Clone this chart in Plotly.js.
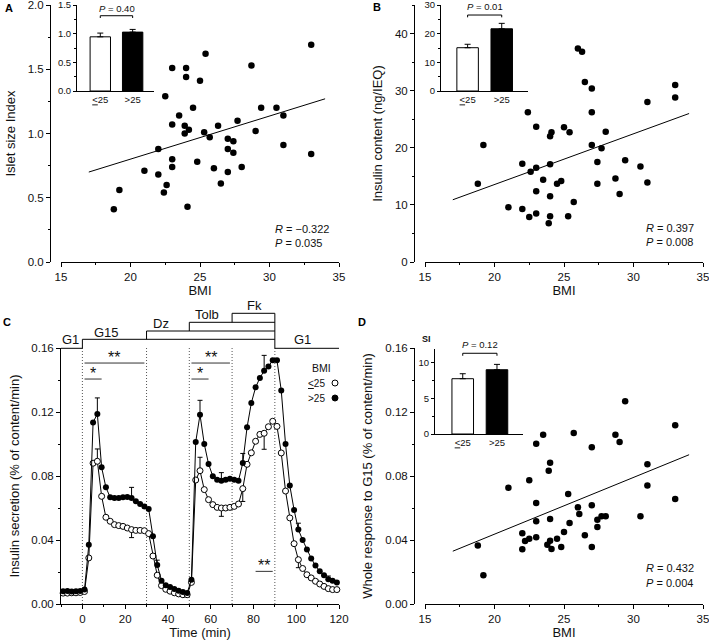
<!DOCTYPE html>
<html><head><meta charset="utf-8">
<script src="https://cdn.plot.ly/plotly-3.0.1.min.js"></script>
<style>html,body{margin:0;padding:0;background:#fff}#chart{width:709px;height:643px}</style>
</head><body><div id="chart"></div>
<script>
// ---------- Panel A: islet size index vs BMI ----------
const bmiA = [33.0, 25.4, 23.0, 24.0, 24.0, 25.0, 28.7, 22.5, 24.5, 23.5, 23.0, 23.9, 24.2, 23.9, 25.3, 25.7, 26.3, 27.0, 27.4, 27.7, 29.0, 29.4, 30.5, 31.0, 31.0, 33.0, 22.0, 23.0, 23.0, 24.8, 26.0, 27.0, 27.4, 27.0, 28.0, 21.0, 22.0, 22.6, 22.4, 26.5, 19.2, 18.8, 24.1];
const sizeA = [1.69, 1.62, 1.51, 1.51, 1.44, 1.41, 1.53, 1.29, 1.20, 1.14, 1.07, 1.06, 1.03, 1.00, 1.01, 0.97, 1.06, 0.96, 0.94, 1.10, 1.02, 1.20, 1.20, 1.14, 0.91, 0.84, 0.88, 0.80, 0.74, 0.78, 0.73, 0.88, 0.85, 0.70, 0.74, 0.71, 0.68, 0.60, 0.54, 0.61, 0.56, 0.41, 0.43];
const fitX = [17, 34];
const fitA = [0.70, 1.27];

// ---------- Panel B: insulin content vs BMI ----------
const bmiB = [26.0, 26.3, 26.5, 27.0, 33.0, 33.0, 31.0, 22.4, 27.0, 23.0, 24.1, 24.0, 25.0, 25.4, 28.0, 27.0, 27.7, 19.2, 22.0, 22.6, 23.0, 24.0, 23.5, 24.5, 24.8, 27.4, 29.4, 30.5, 28.7, 27.4, 31.0, 29.0, 18.8, 23.0, 24.0, 25.7, 21.0, 22.0, 22.5, 23.0, 24.0, 23.9, 25.3];
const insB = [37.4, 36.8, 31.5, 30.4, 31.0, 28.8, 28.0, 26.2, 26.2, 23.7, 22.7, 22.0, 23.6, 22.7, 22.8, 20.5, 19.9, 20.5, 17.2, 15.8, 16.5, 17.1, 14.4, 13.7, 14.2, 17.5, 17.8, 16.7, 14.6, 13.7, 13.9, 11.9, 13.7, 12.4, 11.5, 10.5, 9.6, 9.3, 7.9, 8.5, 8.0, 6.8, 8.0];
const fitB = [10.9, 26.0];

// ---------- Panel D: whole response to G15 vs BMI ----------
const bmiD = [29.4, 33.0, 23.5, 25.7, 23.0, 28.7, 29.0, 27.0, 24.0, 23.9, 31.0, 22.5, 21.0, 31.0, 25.3, 33.0, 23.0, 26.0, 27.0, 26.1, 24.0, 23.0, 25.4, 27.7, 28.0, 27.4, 30.5, 27.4, 25.0, 22.0, 26.5, 24.5, 22.5, 23.0, 22.2, 24.0, 23.8, 18.8, 22.0, 24.1, 24.8, 27.0, 19.2];
const respD = [0.1267, 0.1117, 0.1058, 0.1069, 0.1002, 0.1058, 0.1013, 0.0979, 0.0883, 0.0833, 0.0873, 0.0773, 0.0727, 0.0740, 0.0688, 0.0656, 0.0631, 0.0604, 0.0617, 0.0563, 0.0531, 0.0517, 0.0506, 0.0548, 0.0548, 0.0527, 0.0548, 0.0481, 0.0450, 0.0442, 0.0429, 0.0408, 0.0408, 0.0417, 0.0394, 0.0396, 0.0371, 0.0365, 0.0342, 0.0344, 0.0356, 0.0356, 0.0179];
const fitD = [0.0330, 0.0933];

// ---------- Insets (bar charts) ----------
const groupPos = [0, 1];
const groupLabels = ['<u>&lt;</u>25', '&gt;25'];
const insetA = [0.945, 1.027];
const insetAErr = [0.065, 0.047];
const insetB = [15.1, 21.7];
const insetBErr = [1.2, 1.9];
const insetD = [7.76, 9.02];
const insetDErr = [0.70, 0.75];

// ---------- Panel C: perifusion time course ----------
const timeC = [-9,-7,-5,-3,-1,1,3,5,7,9,11,13,15,17,19,21,23,25,27,29,31,33,35,37,39,41,43,45,47,49,51,53,55,57,59,61,63,65,67,69,71,73,75,77,79,81,83,85,87,89,91,93,95,97,99,101,103,105,107,109,111,113,115,117,119];
const lowBMI = [0.0068,0.0068,0.0070,0.0070,0.0072,0.0078,0.0288,0.0880,0.0892,0.0673,0.0542,0.0517,0.0496,0.0490,0.0485,0.0475,0.0465,0.0460,0.0460,0.0458,0.0440,0.0300,0.0180,0.0115,0.0092,0.0080,0.0070,0.0063,0.0058,0.0058,0.0135,0.0775,0.0833,0.0715,0.0652,0.0621,0.0604,0.0600,0.0600,0.0604,0.0610,0.0625,0.0721,0.0873,0.0945,0.1017,0.1060,0.1067,0.1108,0.1142,0.1110,0.0944,0.0706,0.0538,0.0377,0.0277,0.0222,0.0183,0.0163,0.0142,0.0125,0.0110,0.0096,0.0090,0.0090];
const highBMI = [0.0080,0.0082,0.0078,0.0080,0.0082,0.0090,0.0370,0.1135,0.1188,0.0854,0.0729,0.0667,0.0663,0.0663,0.0667,0.0669,0.0663,0.0642,0.0625,0.0610,0.0594,0.0423,0.0244,0.0146,0.0117,0.0106,0.0094,0.0083,0.0075,0.0069,0.0152,0.1013,0.1183,0.1000,0.0875,0.0798,0.0777,0.0771,0.0777,0.0783,0.0777,0.0771,0.0881,0.1104,0.1256,0.1354,0.1413,0.1458,0.1485,0.1523,0.1523,0.1335,0.1000,0.0740,0.0588,0.0465,0.0400,0.0340,0.0285,0.0240,0.0205,0.0180,0.0155,0.0145,0.0135];
const highErrT = [7, 23, 35, 55, 65, 75, 85, 101, 115];
const highErrUp = [0.0100, 0.0066, 0.0030, 0.0090, 0.0050, 0.0060, 0.0096, 0.0040, 0.0020];
const lowErrT = [7, 23, 55, 65, 75, 85, 101];
const lowErrUp = [0.0077, 0, 0.0084, 0, 0, 0, 0];
const lowErrDown = [0, 0.0050, 0, 0.0052, 0.0080, 0.0100, 0.0050];
const dottedTimes = [0, 30, 50, 70, 90];

// ---------- geometry helpers (pixel -> paper) ----------
const W = 709, H = 643;
const px = p => p / W;
const py = p => 1 - p / H;
const FONT = 'Liberation Sans, Arial, Helvetica, sans-serif';

function errArr(times, tlist, vals, fillMissing) {
  return times.map(t => { const i = tlist.indexOf(t); return i < 0 ? fillMissing : vals[i]; });
}
const highPlus = errArr(timeC, highErrT, highErrUp, NaN);
const highMinus = errArr(timeC, highErrT, highErrT.map(() => 0), NaN);
const lowPlus = errArr(timeC, lowErrT, lowErrUp, NaN);
const lowMinus = errArr(timeC, lowErrT, lowErrDown, NaN);

const dotMarker = {color: '#000', size: 6.5};
const traces = [
  // A
  {type: 'scatter', mode: 'markers', x: bmiA, y: sizeA, xaxis: 'x', yaxis: 'y', marker: dotMarker, cliponaxis: false},
  {type: 'scatter', mode: 'lines', x: fitX, y: fitA, xaxis: 'x', yaxis: 'y', line: {color: '#000', width: 1}},
  // B
  {type: 'scatter', mode: 'markers', x: bmiB, y: insB, xaxis: 'x2', yaxis: 'y2', marker: dotMarker, cliponaxis: false},
  {type: 'scatter', mode: 'lines', x: fitX, y: fitB, xaxis: 'x2', yaxis: 'y2', line: {color: '#000', width: 1}},
  // D
  {type: 'scatter', mode: 'markers', x: bmiD, y: respD, xaxis: 'x4', yaxis: 'y4', marker: dotMarker, cliponaxis: false},
  {type: 'scatter', mode: 'lines', x: fitX, y: fitD, xaxis: 'x4', yaxis: 'y4', line: {color: '#000', width: 1}},
  // C
  {type: 'scatter', mode: 'lines+markers', name: '≤25', x: timeC, y: lowBMI, xaxis: 'x3', yaxis: 'y3',
   line: {color: '#000', width: 1}, marker: {symbol: 'circle', size: 6, color: '#fff', line: {color: '#000', width: 1}},
   error_y: {type: 'data', symmetric: false, array: lowPlus, arrayminus: lowMinus, color: '#000', thickness: 1, width: 2.5}, cliponaxis: false},
  {type: 'scatter', mode: 'lines+markers', name: '>25', x: timeC, y: highBMI, xaxis: 'x3', yaxis: 'y3',
   line: {color: '#000', width: 1}, marker: {symbol: 'circle', size: 6, color: '#000'},
   error_y: {type: 'data', symmetric: false, array: highPlus, arrayminus: highMinus, color: '#000', thickness: 1, width: 2.5}, cliponaxis: false},
  // insets
  {type: 'bar', x: groupPos, y: insetA, width: 0.63, xaxis: 'x5', yaxis: 'y5',
   marker: {color: ['#fff', '#000'], line: {color: '#000', width: 1}},
   error_y: {type: 'data', symmetric: false, array: insetAErr, arrayminus: [0, 0], color: '#000', thickness: 1, width: 3}},
  {type: 'bar', x: groupPos, y: insetB, width: 0.63, xaxis: 'x6', yaxis: 'y6',
   marker: {color: ['#fff', '#000'], line: {color: '#000', width: 1}},
   error_y: {type: 'data', symmetric: false, array: insetBErr, arrayminus: [0, 0], color: '#000', thickness: 1, width: 3}},
  {type: 'bar', x: groupPos, y: insetD, width: 0.63, xaxis: 'x7', yaxis: 'y7',
   marker: {color: ['#fff', '#000'], line: {color: '#000', width: 1}},
   error_y: {type: 'data', symmetric: false, array: insetDErr, arrayminus: [0, 0], color: '#000', thickness: 1, width: 3}}
];

function ax(o) {
  return Object.assign({showline: true, linecolor: '#000', linewidth: 1, ticks: 'outside', ticklen: 4,
    tickwidth: 1, tickcolor: '#000', showgrid: false, zeroline: false, fixedrange: true, ticklabeloverflow: 'allow',
    tickfont: {size: 11.5, color: '#111', family: FONT}}, o);
}
function minor(d, t0) { return {ticks: 'outside', ticklen: 2, tickwidth: 1, tickcolor: '#000', dtick: d, tick0: t0 || 0, showgrid: false}; }
const titleFont = {size: 13, color: '#111', family: FONT};
const insFont = {size: 9.5, color: '#111', family: FONT};

const topDom = [py(262), py(5)];
const botDom = [py(604), py(348)];
const leftX = [px(61), px(339)];
const rightX = [px(425), px(703)];

const layout = {
  width: W, height: H, margin: {l: 0, r: 0, t: 0, b: 0},
  paper_bgcolor: '#fff', plot_bgcolor: 'rgba(0,0,0,0)', showlegend: false,
  font: {family: FONT, color: '#111', size: 11},
  // A
  xaxis: ax({domain: leftX, anchor: 'y', range: [15, 35], dtick: 5, tick0: 15, minor: minor(2.5, 15),
    title: {text: 'BMI', font: titleFont, standoff: 4}}),
  yaxis: ax({domain: topDom, anchor: 'free', position: px(50), range: [0, 2], dtick: 0.5, tickformat: '.1f', minor: minor(0.25),
    title: {text: 'Islet size Index', font: titleFont, standoff: 8}}),
  // B
  xaxis2: ax({domain: rightX, anchor: 'y2', range: [15, 35], dtick: 5, tick0: 15, minor: minor(2.5, 15),
    title: {text: 'BMI', font: titleFont, standoff: 4}}),
  yaxis2: ax({domain: topDom, anchor: 'free', position: px(414), range: [0, 45], dtick: 10, minor: minor(5),
    title: {text: 'Insulin content (ng/IEQ)', font: titleFont, standoff: 8}}),
  // C
  xaxis3: ax({domain: leftX, anchor: 'y3', range: [-10, 120], dtick: 20, tick0: 0, minor: minor(10, 0),
    title: {text: 'Time (min)', font: titleFont, standoff: 4}}),
  yaxis3: ax({domain: botDom, anchor: 'x3', range: [0, 0.16], dtick: 0.04, tickformat: '.2f', minor: minor(0.02),
    title: {text: 'Insulin secretion (% of content/min)', font: titleFont, standoff: 8}}),
  // D
  xaxis4: ax({domain: rightX, anchor: 'y4', range: [15, 35], dtick: 5, tick0: 15, minor: minor(2.5, 15),
    title: {text: 'BMI', font: titleFont, standoff: 4}}),
  yaxis4: ax({domain: botDom, anchor: 'free', position: px(414), range: [0, 0.16], dtick: 0.04, tickformat: '.2f', minor: minor(0.02),
    title: {text: 'Whole response to G15 (% of content/min)', font: titleFont, standoff: 8}}),
  // insets
  xaxis5: ax({domain: [px(77), px(154)], anchor: 'y5', range: [-0.72, 1.66], ticks: '', tickvals: groupPos, ticktext: groupLabels, tickfont: insFont}),
  yaxis5: ax({domain: [py(91), py(5)], anchor: 'x5', range: [0, 1.5], dtick: 0.5, tickformat: '.1f', ticklen: 3, minor: minor(0.25), tickfont: insFont}),
  xaxis6: ax({domain: [px(441), px(528)], anchor: 'y6', range: [-0.78, 1.77], ticks: '', tickvals: groupPos, ticktext: groupLabels, tickfont: insFont}),
  yaxis6: ax({domain: [py(91), py(5)], anchor: 'x6', range: [0, 30], dtick: 10, ticklen: 3, minor: minor(5), tickfont: insFont}),
  xaxis7: ax({domain: [px(435), px(523)], anchor: 'y7', range: [-0.81, 1.76], ticks: '', tickvals: groupPos, ticktext: groupLabels, tickfont: insFont}),
  yaxis7: ax({domain: [py(434), py(348.5)], anchor: 'x7', range: [0, 12], dtick: 5, ticklen: 3, minor: minor(2.5), tickfont: insFont}),
  shapes: [],
  annotations: []
};

const S = layout.shapes, A = layout.annotations;
const blk = {color: '#000', width: 1};
// paper-positioned text helper (explicit anchors)
function ptext(x, y, text, font, xanchor) {
  A.push({xref: 'paper', yref: 'paper', x: px(x), y: py(y), text: text, showarrow: false,
          xanchor: xanchor || 'center', yanchor: 'middle', font: font});
}
// dotted vertical lines in C
dottedTimes.forEach(t => S.push({type: 'line', xref: 'x3', yref: 'y3', x0: t, x1: t, y0: 0, y1: 0.16, line: {color: '#555', width: 1, dash: '1px,2px'}, layer: 'below'}));
// protocol diagram above C
const G1 = py(348.3), G15 = py(339.3), DZ = py(331), TOLB = py(322.3), FK = py(313.3);
[[-10, G1, 0, G1], [0, G1, 0, G15], [0, G15, 90, G15], [30, G15, 30, DZ], [30, DZ, 90, DZ],
 [50, DZ, 50, TOLB], [50, TOLB, 90, TOLB], [70, TOLB, 70, FK], [70, FK, 90, FK], [90, FK, 90, G1], [90, G1, 120, G1]]
  .forEach(s => S.push({type: 'line', xref: 'x3', yref: 'paper', x0: s[0], y0: s[1], x1: s[2], y1: s[3], line: blk}));
const protoLabels = [['G1', -5.5, 340], ['G15', 11.5, 332], ['Dz', 36.8, 323], ['Tolb', 58.3, 314], ['Fk', 80.3, 305], ['G1', 102.7, 340]];
protoLabels.forEach(l => A.push({xref: 'x3', yref: 'paper', x: l[1], y: py(l[2]), xanchor: 'center', yanchor: 'middle', text: l[0], showarrow: false, font: {size: 13, family: FONT, color: '#111'}}));
// significance bars in C
const sig = [[1, 29, 0.1506, '**'], [1, 9, 0.1406, '*'], [51, 69, 0.1506, '**'], [51, 59, 0.1406, '*'], [81, 89, 0.0204, '**']];
sig.forEach(s => {
  S.push({type: 'line', xref: 'x3', yref: 'y3', x0: s[0], x1: s[1], y0: s[2], y1: s[2], line: {color: '#333', width: 1}});
  A.push({xref: 'x3', yref: 'y3', x: (s[0] + s[1]) / 2, y: s[2], xanchor: 'center', yanchor: 'bottom', yshift: -5, text: s[3], showarrow: false, font: {size: 16, family: FONT, color: '#111'}});
});
// C legend
ptext(333, 368, 'BMI', {size: 10.5, family: FONT}, 'right');
ptext(327, 383, '<u>&lt;</u>25', {size: 10, family: FONT}, 'right');
ptext(327, 398, '&gt;25', {size: 10, family: FONT}, 'right');
S.push({type: 'circle', xref: 'paper', yref: 'paper', xsizemode: 'pixel', ysizemode: 'pixel', xanchor: px(335), yanchor: py(383), x0: -3, x1: 3, y0: -3, y1: 3, line: blk, fillcolor: '#fff'});
S.push({type: 'circle', xref: 'paper', yref: 'paper', xsizemode: 'pixel', ysizemode: 'pixel', xanchor: px(335), yanchor: py(398), x0: -3, x1: 3, y0: -3, y1: 3, line: blk, fillcolor: '#000'});

// inset brackets + P labels
function bracket(xa, ya, yv, leg, ptxt, lx, ly) {
  S.push({type: 'path', xref: xa, yref: ya, path: `M0,${yv - leg} L0,${yv} L1,${yv} L1,${yv - leg}`, line: blk});
  ptext(lx, ly, ptxt, insFont);
}
bracket('x5', 'y5', 1.313, 0.04, '<i>P</i> = 0.40', 117, 9);
bracket('x6', 'y6', 26.5, 0.8, '<i>P</i> = 0.01', 485, 7);
bracket('x7', 'y7', 11.33, 0.35, '<i>P</i> = 0.12', 480, 344);
ptext(427, 339, '<b>SI</b>', {size: 9, family: FONT});

// R / P statistics
const stat = [[273, 229, '<i>R</i> = −0.322'], [273, 243, '<i>P</i> = 0.035'], [644, 228, '<i>R</i> = 0.397'], [644, 242, '<i>P</i> = 0.008'],
              [644, 568, '<i>R</i> = 0.432'], [644, 583, '<i>P</i> = 0.004']];
stat.forEach(s => ptext(s[0], s[1], s[2], {size: 11, family: FONT, color: '#111'}, 'left'));

// panel letters
[['A', 9, 8], ['B', 377, 7], ['C', 7, 322], ['D', 362, 322]].forEach(l =>
  ptext(l[1], l[2], '<b>' + l[0] + '</b>', {size: 11, family: FONT, color: '#000'}));

Plotly.newPlot('chart', traces, layout, {staticPlot: true, displayModeBar: false});
</script></body></html>
